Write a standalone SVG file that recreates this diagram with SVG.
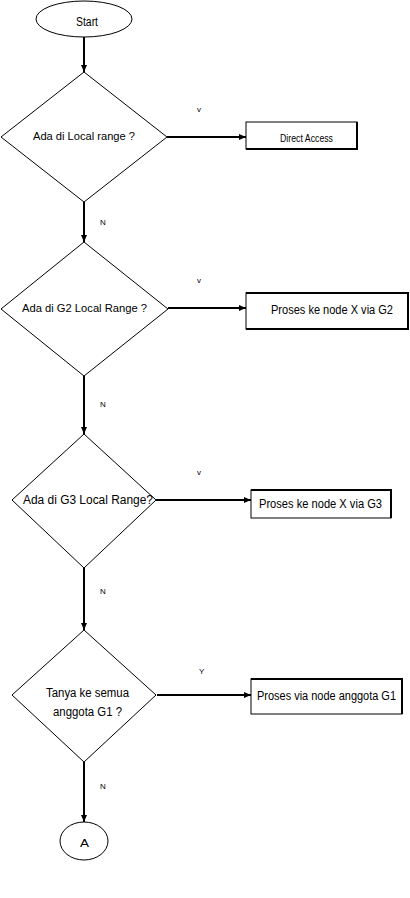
<svg xmlns="http://www.w3.org/2000/svg" width="410" height="898" viewBox="0 0 410 898">
<style>
.shape{fill:#fff;stroke:#000;stroke-width:1}
.edge{fill:none;stroke:#000;stroke-width:2}
.heavy{fill:none;stroke:#000;stroke-width:2}
.t{font-family:"Liberation Sans",Arial,sans-serif;fill:#000}
.lbl{font-family:"Liberation Sans",Arial,sans-serif;fill:#000;font-size:8px}
</style>
<defs>
<marker id="arr" markerUnits="userSpaceOnUse" markerWidth="8" markerHeight="8" refX="7" refY="4" orient="auto">
<path d="M0,1 L7,4 L0,7 Z" fill="#000"/>
</marker>
</defs>
<rect width="410" height="898" fill="#fff"/>
<g id="connectors">
<line class="edge" x1="84" y1="37" x2="84" y2="72" marker-end="url(#arr)"/>
<line class="edge" x1="167" y1="137" x2="246" y2="137" marker-end="url(#arr)"/>
<line class="edge" x1="84" y1="202" x2="84" y2="242" marker-end="url(#arr)"/>
<line class="edge" x1="168" y1="308" x2="246" y2="308" marker-end="url(#arr)"/>
<line class="edge" x1="84" y1="376" x2="84" y2="434" marker-end="url(#arr)"/>
<line class="edge" x1="156" y1="500" x2="251" y2="500" marker-end="url(#arr)"/>
<line class="edge" x1="84" y1="568" x2="84" y2="630" marker-end="url(#arr)"/>
<line class="edge" x1="157" y1="695" x2="251" y2="695" marker-end="url(#arr)"/>
<line class="edge" x1="84" y1="762" x2="84" y2="822" marker-end="url(#arr)"/>
<text class="lbl" x="197" y="112">v</text>
<text class="lbl" x="100" y="225">N</text>
<text class="lbl" x="197" y="283">v</text>
<text class="lbl" x="100" y="407">N</text>
<text class="lbl" x="197" y="475">v</text>
<text class="lbl" x="100" y="594">N</text>
<text class="lbl" x="199" y="674">Y</text>
<text class="lbl" x="100" y="789">N</text>
</g>
<g id="start">
<ellipse class="shape" cx="84" cy="19" rx="48" ry="18"/>
<text class="t" x="76" y="26" font-size="12" textLength="22" lengthAdjust="spacingAndGlyphs">Start</text>
</g>
<g id="d1">
<polygon class="shape" points="84,72 167,137 84,202 1,137"/>
<text class="t" x="33" y="140" font-size="11.5" textLength="102" lengthAdjust="spacingAndGlyphs">Ada di Local range ?</text>
</g>
<g id="box1">
<rect class="shape" x="246" y="122" width="111" height="27"/>
<path class="heavy" d="M246,149 L357,149 L357,122"/>
<text class="t" x="280" y="142" font-size="11" textLength="53" lengthAdjust="spacingAndGlyphs">Direct Access</text>
</g>
<g id="d2">
<polygon class="shape" points="84,242 168,309 84,376 1,309"/>
<text class="t" x="22" y="312" font-size="11.5" textLength="125" lengthAdjust="spacingAndGlyphs">Ada di G2 Local Range ?</text>
</g>
<g id="box2">
<rect class="shape" x="246" y="293" width="162" height="36"/>
<path class="heavy" d="M246,293 L408,293 L408,329 L246,329"/>
<text class="t" x="271" y="314" font-size="12" textLength="122" lengthAdjust="spacingAndGlyphs">Proses ke node X via G2</text>
</g>
<g id="d3">
<polygon class="shape" points="84,434 156,500 84,568 12,500"/>
<text class="t" x="23" y="504" font-size="12" textLength="130" lengthAdjust="spacingAndGlyphs">Ada di G3 Local Range?</text>
</g>
<g id="box3">
<rect class="shape" x="251" y="490" width="140" height="28"/>
<path class="heavy" d="M251,490 L391,490 L391,518"/>
<text class="t" x="259" y="508" font-size="12" textLength="123" lengthAdjust="spacingAndGlyphs">Proses ke node X via G3</text>
</g>
<g id="d4">
<polygon class="shape" points="84,630 156,695 84,762 12,695"/>
<text class="t" x="46" y="697" font-size="12" textLength="83" lengthAdjust="spacingAndGlyphs">Tanya ke semua</text>
<text class="t" x="53" y="716" font-size="12" textLength="69" lengthAdjust="spacingAndGlyphs">anggota G1 ?</text>
</g>
<g id="box4">
<rect class="shape" x="251" y="679" width="151" height="35"/>
<path class="heavy" d="M251,679 L402,679 L402,714"/>
<text class="t" x="257" y="700" font-size="12" textLength="139" lengthAdjust="spacingAndGlyphs">Proses via node anggota G1</text>
</g>
<g id="endA">
<ellipse class="shape" cx="84" cy="841" rx="24" ry="19"/>
<text class="t" x="80" y="847" font-size="11" textLength="9" lengthAdjust="spacingAndGlyphs">A</text>
</g>
</svg>
